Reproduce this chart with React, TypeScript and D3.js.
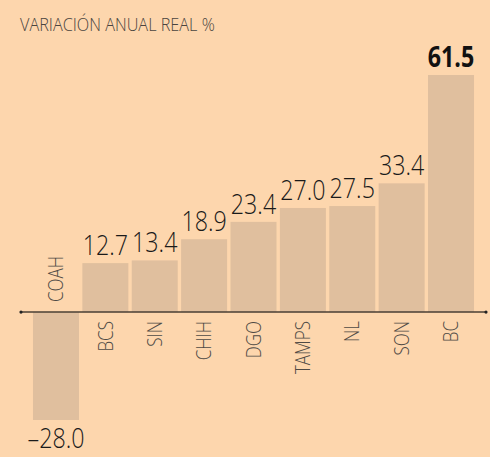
import React from "react";
import * as d3 from "d3";

const categories = ["COAH", "BCS", "SIN", "CHIH", "DGO", "TAMPS", "NL", "SON", "BC"];
const values = [-28.0, 12.7, 13.4, 18.9, 23.4, 27.0, 27.5, 33.4, 61.5];
const highlight = "BC";
const title = "VARIACIÓN ANUAL REAL %";

const W = 490;
const H = 457;
const BG = "#fdd6ad";
const BAR = "#e0bf9e";
const FONT = "'Open Sans', sans-serif";
const SX = 0.83;

export default function App() {
  const x = d3
    .scaleBand<string>()
    .domain(categories)
    .range([31.3, 475.7])
    .paddingInner(0.0684)
    .paddingOuter(0.0342);
  const y = d3.scaleLinear().domain([-28, 61.5]).range([420, 75]);
  const y0 = y(0);
  const fmt = (v: number) => {
    const s = d3.format(".1f")(Math.abs(v));
    return v < 0 ? "–" + s : s;
  };

  return (
    <svg
      width={W}
      height={H}
      style={{ position: "absolute", left: 0, top: 0, background: BG }}
    >
      <rect x={0} y={0} width={W} height={H} fill={BG} />
      <text
        transform={`translate(20,31) scale(0.93,1)`}
        fontFamily={FONT}
        fontWeight={300}
        fontSize={17.5}
        fill="#4a4540"
      >
        {title}
      </text>
      {categories.map((c, i) => {
        const v = values[i];
        const bx = x(c)!;
        const bw = x.bandwidth();
        const cx = bx + bw / 2;
        const top = v >= 0 ? y(v) : y0;
        const h = Math.abs(y(v) - y0);
        const labelY = v >= 0 ? y(v) - 8 : y(v) + 28;
        const isHi = c === highlight;
        return (
          <g key={c}>
            <rect x={bx} y={top} width={bw} height={h} fill={BAR} />
            <text
              transform={`translate(${cx},${labelY}) scale(${SX},1)`}
              textAnchor="middle"
              fontFamily={FONT}
              fontWeight={isHi ? 700 : 300}
              fontSize={28}
              fill={isHi ? "#111" : "#1a1a1a"}
            >
              {fmt(v)}
            </text>
            <text
              transform={`translate(${cx},${v >= 0 ? y0 + 9 : y0 - 10}) rotate(-90) scale(0.85,1)`}
              textAnchor={v >= 0 ? "end" : "start"}
              dy="0.36em"
              fontFamily={FONT}
              fontWeight={300}
              fontSize={20}
              fill="#4f4a45"
            >
              {c}
            </text>
          </g>
        );
      })}
      <line x1={21} x2={486} y1={y0} y2={y0} stroke="#4a3f35" strokeWidth={1.5} />
      <circle cx={21} cy={y0} r={1.6} fill="#222" />
      <circle cx={486} cy={y0} r={1.6} fill="#222" />
    </svg>
  );
}
